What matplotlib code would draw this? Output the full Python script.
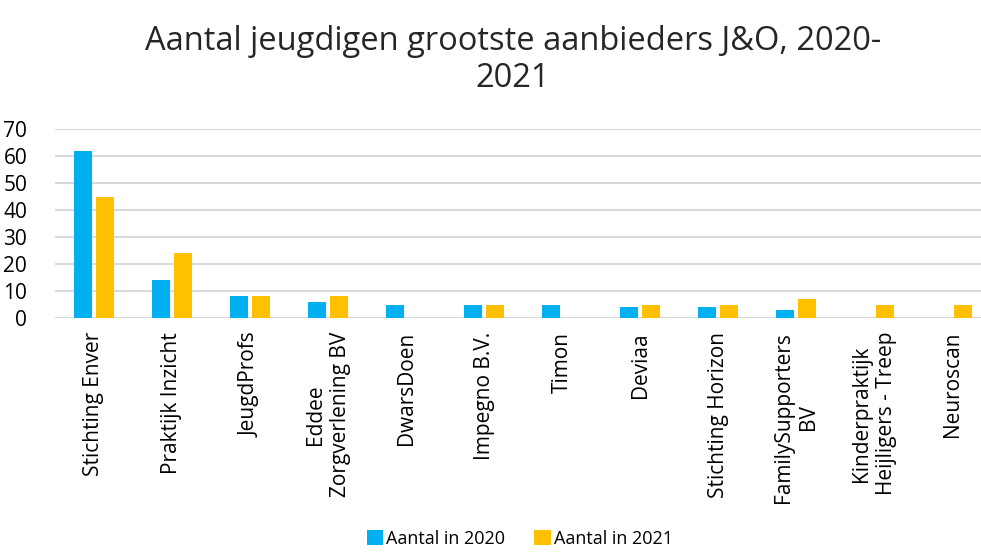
import numpy as np
import matplotlib
matplotlib.use("Agg")
import matplotlib.pyplot as plt

plt.rcParams['font.family'] = ['Open Sans', 'DejaVu Sans']

# data
categories = ["Stichting Enver", "Praktijk Inzicht", "JeugdProfs",
              "Eddee\nZorgverlening BV", "DwarsDoen", "Impegno B.V.", "Timon",
              "Deviaa", "Stichting Horizon", "FamilySupporters\nBV",
              "Kinderpraktijk\nHeijligers - Treep", "Neuroscan"]
aantal_2020 = [62, 14, 8, 6, 5, 5, 5, 4, 4, 3, 0, 0]
aantal_2021 = [45, 24, 8, 8, 0, 5, 0, 5, 5, 7, 5, 5]

blue = "#00B0F0"
yellow = "#FFC000"

fig = plt.figure(figsize=(9.81, 5.54), dpi=100)
ax = fig.add_axes([0.056, 0.426, 0.944, 0.341])

x = np.arange(len(categories))
w = 0.23
off = 0.141
ax.bar(x - off, aantal_2020, w, color=blue, label="Aantal in 2020", zorder=3)
ax.bar(x + off, aantal_2021, w, color=yellow, label="Aantal in 2021", zorder=3)

ax.set_ylim(0, 70)
ax.set_yticks(range(0, 71, 10))
ax.set_xlim(-0.5, 11.37)
ax.yaxis.grid(True, color="#D9D9D9", linewidth=1.5, zorder=0)
for s in ax.spines.values():
    s.set_visible(False)
ax.tick_params(axis='both', length=0)
ax.tick_params(axis='y', pad=20, labelsize=15)
ax.set_xticks(x)
ax.set_xticklabels(categories, rotation=90, ha='center', va='top',
                   multialignment='center', fontsize=15, linespacing=1.25)
ax.tick_params(axis='x', pad=10)

fig.suptitle("Aantal jeugdigen grootste aanbieders J&O, 2020-\n2021",
             fontsize=23.5, y=0.955, x=0.523, va='top', color="#262626",
             linespacing=1.15)

fig.legend(loc='lower center', bbox_to_anchor=(0.53, -0.018), ncol=2, frameon=False,
           fontsize=13, handlelength=0.9, handleheight=0.9, handletextpad=0.2,
           columnspacing=1.6)

fig.savefig("out.png", dpi=100)
